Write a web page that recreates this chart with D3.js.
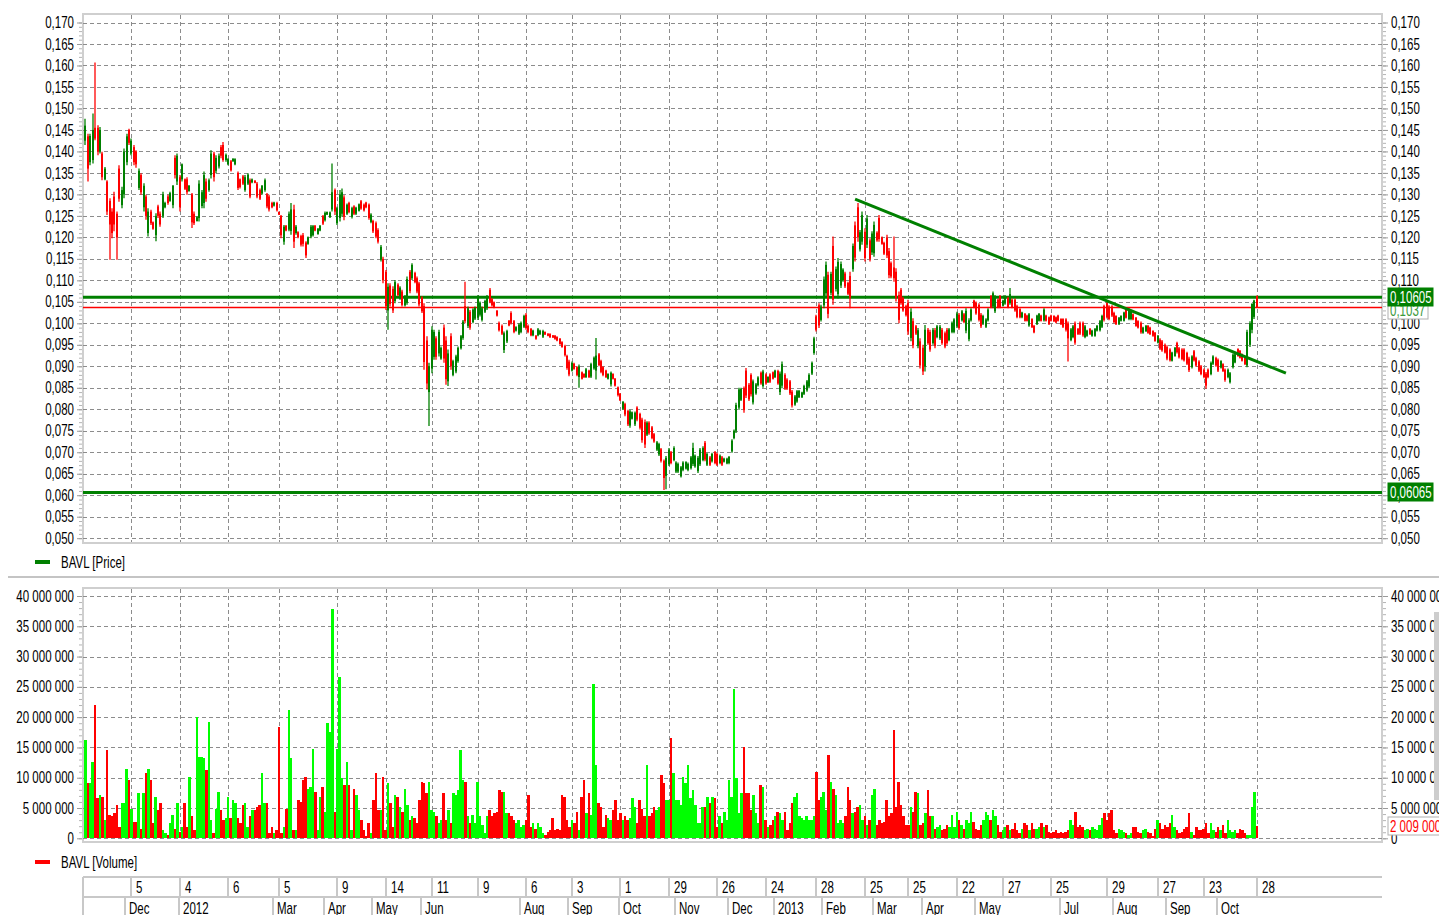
<!DOCTYPE html>
<html>
<head>
<meta charset="utf-8">
<script src="https://cdn.jsdelivr.net/npm/d3@7"></script>
<style>
  body { margin: 0; background: #fff; }
  text { font-family: "Liberation Sans", Arial, sans-serif; font-size: 16px; }
</style>
</head>
<body>
<div id="chart-container"></div>
<script>
// BAVL daily candles, prices in thousandths of a rouble (142.5 = 0,1425)
const open = [
  142.5,143.5,137.5,138.0,145.5,145.5,140.0,139.5,133.5,133.0,128.5,126.0,129.5,125.5,136.0,127.5,130.0,137.5,145.0,139.5,
  141.0,140.0,131.5,134.5,127.0,129.5,121.0,126.0,123.5,120.5,127.2,125.5,125.0,127.0,129.5,128.5,127.5,138.5,133.0,134.0,
  133.5,133.5,133.5,130.8,130.0,125.5,123.8,124.5,127.3,128.0,133.0,131.0,134.5,139.5,135.5,136.5,141.0,141.5,138.0,137.0,
  137.7,137.7,137.0,135.0,133.5,134.2,131.0,132.5,133.3,132.8,133.2,132.5,131.0,130.2,131.0,130.0,129.5,128.0,127.4,128.0,
  125.9,125.0,119.0,122.7,121.8,121.5,126.5,121.0,121.2,120.3,120.5,118.8,118.5,120.2,120.5,122.7,120.8,121.6,124.9,124.0,
  125.3,124.7,126.5,131.0,123.3,124.5,125.5,129.3,125.5,128.0,124.8,127.2,125.5,126.2,128.4,127.6,128.1,127.6,123.6,123.8,
  123.3,121.7,114.8,115.0,112.0,103.0,108.8,108.0,105.2,109.0,105.8,107.4,104.2,104.8,112.0,110.5,111.7,110.5,109.3,106.0,
  104.0,96.0,84.0,89.5,92.2,96.5,93.0,91.8,99.0,96.0,86.5,97.0,88.0,88.8,91.2,94.2,96.6,104.0,99.4,102.7,
  100.3,101.1,101.3,102.0,100.8,102.7,103.5,107.8,105.6,104.9,102.9,100.1,99.4,93.8,95.8,100.6,102.4,100.5,98.3,97.6,
  98.0,99.2,102.0,99.4,98.7,97.2,97.1,97.2,97.5,96.9,98.0,97.6,97.5,97.2,97.1,96.8,96.4,95.6,94.7,92.4,
  91.1,89.0,90.6,89.8,87.5,88.6,88.2,87.5,89.0,87.6,89.5,89.0,92.8,91.2,89.8,89.0,87.1,85.8,88.2,87.1,
  85.1,83.6,80.1,81.2,79.6,76.2,77.8,76.5,80.4,78.9,77.6,77.0,74.1,76.9,75.8,74.2,70.6,69.5,70.7,68.0,
  64.5,67.2,70.0,68.2,65.5,65.5,64.4,65.9,66.2,65.9,66.3,67.3,66.7,65.6,67.2,68.2,72.2,67.1,68.8,67.9,
  70.0,69.6,67.5,68.8,67.8,67.4,67.5,70.2,73.3,75.0,80.4,82.2,84.9,89.0,85.7,88.0,81.6,83.7,85.6,88.5,
  85.4,88.1,86.3,88.1,88.6,87.5,88.9,84.0,85.5,88.0,86.9,86.5,84.1,81.1,81.8,82.8,82.8,83.6,84.4,85.3,
  88.3,93.1,101.6,104.2,100.8,104.2,107.0,111.3,107.1,118.0,108.0,106.8,108.8,110.0,111.6,109.4,111.0,112.6,122.8,127.0,
  117.2,119.0,121.3,118.3,119.3,116.5,116.3,121.1,124.5,120.0,118.7,120.0,116.8,114.0,113.0,112.0,106.6,107.8,105.8,104.0,
  104.7,96.6,100.5,99.3,94.7,95.8,94.3,90.0,98.5,98.0,95.4,98.4,96.8,96.5,98.5,97.7,98.5,96.1,98.0,98.0,
  99.3,102.0,100.7,102.1,98.3,96.3,100.7,105.3,104.8,104.3,102.0,99.9,99.2,100.7,106.3,103.9,102.8,105.5,106.3,104.1,
  104.6,105.9,104.7,105.5,105.5,104.0,103.3,101.4,102.2,101.8,99.5,101.0,99.4,99.8,100.6,101.8,100.7,101.8,101.4,101.8,
  101.7,101.4,101.8,101.0,101.0,100.9,100.0,96.1,96.8,100.0,98.7,100.1,100.1,96.8,97.1,98.7,97.1,97.1,98.3,98.4,
  99.2,104.0,104.7,103.9,103.9,102.4,101.7,99.8,100.6,100.6,103.3,101.0,101.0,102.1,101.3,100.5,100.1,97.8,98.2,99.4,
  99.0,98.2,97.8,95.5,96.2,95.8,95.0,94.5,93.9,91.3,92.4,95.4,94.2,93.9,93.9,93.1,91.8,89.8,93.5,91.9,
  91.1,90.0,89.2,88.3,89.2,88.2,90.6,91.9,91.5,89.7,90.5,89.2,87.5,86.3,89.8,90.9,94.0,93.6,92.8,92.0,
  90.2,95.0,98.5,101.5,106.3
];
const high = [
  147.6,144.1,144.1,148.8,160.7,146.1,145.7,139.9,136.4,133.3,129.1,126.8,130.6,126.0,136.8,131.8,140.7,144.1,145.3,143.0,
  141.5,140.3,136.0,134.9,132.6,129.9,126.8,126.4,123.7,125.6,127.6,126.0,130.6,128.3,129.9,130.6,132.2,139.1,139.5,134.5,
  137.2,133.7,134.0,132.2,130.3,126.0,124.9,133.3,131.0,135.3,133.7,133.7,140.3,139.9,139.1,139.5,141.5,142.2,139.5,138.4,
  138.0,138.4,138.4,135.3,133.7,134.5,134.5,134.9,133.7,133.7,133.3,132.9,131.4,132.2,133.7,130.3,129.9,128.3,128.3,128.3,
  126.0,125.2,122.9,122.9,126.0,128.0,127.6,122.9,121.4,120.6,121.0,119.1,120.2,122.9,122.9,122.9,122.2,122.9,125.2,126.0,
  126.0,126.0,137.2,131.4,127.1,131.0,131.4,129.8,127.9,128.3,127.1,127.5,127.1,127.9,128.7,127.9,128.3,127.9,125.6,124.1,
  123.7,122.1,118.2,115.5,112.4,109.3,109.3,108.6,110.1,109.3,108.6,107.8,106.6,110.9,112.4,114.0,112.0,110.9,109.7,106.3,
  104.7,97.0,90.8,99.3,98.5,97.0,98.5,94.6,99.7,97.0,93.9,97.7,91.5,92.7,94.6,97.3,100.8,109.7,103.9,103.1,
  103.5,103.9,106.6,105.1,103.9,105.5,106.6,108.2,105.9,105.1,103.1,100.4,99.7,98.1,98.5,100.8,102.8,100.8,99.3,100.0,
  100.4,102.0,102.4,99.7,98.9,98.5,97.3,98.9,98.5,98.5,98.1,97.7,97.7,97.3,97.3,97.0,96.6,95.8,95.0,92.7,
  91.5,91.1,90.8,90.0,90.4,88.8,88.4,89.6,89.2,90.8,92.3,96.6,93.1,91.5,90.0,89.2,88.4,88.8,88.4,87.3,
  85.3,83.8,81.9,81.5,79.9,79.9,79.5,79.5,80.7,79.2,78.0,77.6,77.2,77.2,76.1,74.5,72.6,72.2,71.0,68.3,
  69.1,71.0,70.3,71.4,67.9,67.6,66.8,67.9,67.9,67.6,69.1,72.2,69.5,69.1,71.0,71.4,72.6,69.9,69.1,69.9,
  70.3,69.9,69.5,69.1,68.7,68.7,69.1,73.0,75.3,81.5,85.0,85.0,85.3,89.6,86.1,88.4,86.9,86.1,87.7,88.8,
  89.2,88.4,87.7,88.4,88.8,89.2,89.2,88.8,91.1,88.4,87.2,86.8,84.5,83.3,84.5,84.5,84.1,85.7,86.8,88.4,
  91.1,96.9,102.0,104.7,104.3,110.9,114.4,112.0,112.0,120.2,113.2,115.2,114.4,112.8,112.0,109.7,112.0,118.6,123.7,128.0,
  121.7,126.0,122.1,125.2,119.8,121.4,123.7,121.4,125.2,120.2,119.0,120.6,117.5,114.4,120.2,112.8,107.4,108.2,106.2,104.3,
  105.5,103.5,101.2,99.6,98.9,96.5,95.0,99.6,98.9,98.5,98.9,98.9,99.6,99.6,98.9,98.1,98.9,98.9,100.4,101.2,
  102.7,102.4,103.1,102.4,103.5,101.2,103.5,105.5,105.1,104.7,102.4,102.0,101.2,103.5,106.6,107.4,106.6,105.8,106.6,105.5,
  106.6,106.2,108.2,105.8,105.8,104.3,103.5,102.7,102.4,102.0,102.4,101.2,99.6,102.0,102.4,102.0,103.5,102.0,101.6,102.0,
  101.9,101.6,102.0,101.2,101.2,101.2,100.4,98.9,99.6,100.4,98.9,100.4,100.4,99.6,98.5,98.9,98.5,98.9,99.6,100.8,
  102.0,104.3,105.0,104.2,104.2,102.7,101.9,101.5,101.9,102.7,103.5,103.5,103.1,102.3,101.5,100.7,100.4,99.2,99.6,99.6,
  99.2,98.4,98.0,97.3,96.5,96.1,95.3,94.9,94.2,93.4,94.5,95.7,94.5,94.2,94.2,93.4,92.2,92.6,93.8,92.2,
  91.4,90.3,89.5,88.7,89.5,91.1,92.6,92.2,91.8,91.4,90.7,89.5,89.5,88.7,93.0,93.0,94.2,93.8,93.0,92.2,
  98.5,100.5,104.7,105.5,106.5
];
const low = [
  141.5,133.0,136.8,137.2,142.6,139.1,139.5,133.3,133.3,125.2,114.8,119.8,121.4,114.8,128.3,126.8,129.1,136.8,141.5,139.1,
  136.8,136.2,131.0,129.9,126.0,124.1,120.2,122.9,121.8,119.1,124.5,122.5,124.5,126.8,127.6,128.3,126.8,133.7,132.2,126.0,
  133.0,131.0,129.9,130.6,122.2,122.9,123.7,123.7,126.8,126.8,128.3,130.6,133.7,133.0,134.9,136.0,138.4,137.6,137.6,136.8,
  135.3,137.6,136.8,131.0,131.4,132.2,130.6,132.2,129.1,132.6,132.6,129.1,128.7,129.9,130.6,126.8,126.0,126.8,127.2,126.0,
  125.2,119.8,118.3,121.4,121.4,120.6,117.5,120.6,119.8,117.9,117.9,115.2,118.3,119.8,120.2,121.4,120.6,121.4,122.9,123.7,
  125.2,124.5,126.0,125.2,122.9,123.7,124.8,124.0,125.2,125.6,124.4,125.2,125.2,126.0,126.4,126.0,126.8,124.1,123.3,121.0,
  119.8,118.6,114.4,109.3,103.1,98.5,103.9,102.4,104.7,106.3,105.5,103.9,103.9,104.3,107.0,110.1,109.3,107.0,103.9,102.4,
  89.2,84.6,76.1,88.4,91.5,91.5,92.3,91.5,90.8,85.7,85.4,89.2,87.7,88.4,90.8,93.9,96.2,100.0,98.9,98.5,
  100.0,100.8,100.8,101.6,100.4,102.4,103.1,104.7,103.9,103.5,101.6,98.1,97.3,93.1,95.4,99.3,99.7,97.7,98.1,97.3,
  97.7,98.9,98.5,97.7,97.0,97.0,96.2,97.0,97.3,96.6,97.3,97.0,96.6,96.6,96.2,95.8,95.0,94.3,92.3,89.2,
  87.7,88.8,89.2,87.7,85.0,86.9,87.3,87.3,87.3,87.3,89.2,86.9,90.0,88.4,87.7,87.3,86.9,85.3,86.9,85.3,
  83.0,81.9,79.9,78.4,76.1,75.7,77.6,76.1,77.2,75.3,72.2,71.0,73.8,74.1,73.0,72.2,70.3,69.1,67.6,61.2,
  61.4,66.8,67.2,67.9,65.2,65.2,64.1,65.6,66.0,65.6,66.0,66.8,66.4,65.2,66.8,67.9,67.9,66.8,66.8,67.6,
  67.2,66.8,67.2,66.8,67.6,67.2,67.2,69.9,73.0,74.5,79.9,81.9,79.2,82.6,81.9,83.0,81.1,83.4,85.3,85.7,
  85.0,85.7,86.1,86.1,86.9,87.3,85.7,83.3,84.9,84.5,84.5,83.3,80.4,80.8,81.5,82.6,82.6,83.3,84.1,84.9,
  88.0,92.7,98.1,98.9,100.4,103.5,106.2,101.2,106.6,104.3,107.4,105.8,108.2,109.7,108.2,106.6,103.5,112.0,114.4,119.0,
  116.7,118.3,114.4,117.5,114.4,115.9,115.5,119.0,119.0,118.3,115.9,115.2,110.5,110.5,109.7,105.1,100.0,104.3,102.7,101.6,
  97.3,95.8,94.2,97.3,94.2,89.5,88.0,88.8,95.0,93.4,95.0,94.2,96.5,96.1,95.0,94.2,95.0,95.8,97.7,97.7,
  98.9,98.5,100.4,100.0,97.7,95.8,100.4,103.5,102.0,100.4,98.9,99.6,98.9,100.4,103.5,103.5,102.4,103.5,103.5,103.9,
  104.3,103.5,104.3,103.5,102.7,101.2,101.2,101.2,100.4,100.4,99.2,98.9,97.7,99.6,100.4,100.4,100.4,100.4,99.6,100.4,
  100.3,100.0,100.4,99.6,98.9,98.1,91.1,95.8,96.5,95.0,97.3,97.3,96.9,96.5,96.9,97.3,96.9,96.9,98.1,98.1,
  98.9,100.4,101.1,100.7,101.5,100.0,99.6,99.6,100.4,100.4,101.1,100.7,100.7,100.7,99.2,98.8,97.6,97.6,98.0,97.6,
  97.3,96.9,95.7,95.3,93.8,93.4,93.0,91.4,91.1,91.1,92.2,93.0,91.8,91.4,91.1,90.3,88.7,89.5,91.1,89.9,
  88.7,87.9,87.2,84.8,87.2,87.9,90.3,89.9,88.7,89.5,88.7,86.4,87.2,86.0,89.5,90.7,92.2,91.8,91.1,90.3,
  89.8,94.5,97.7,101.0,103.7
];
const close = [
  146.0,136.0,143.6,145.0,143.0,140.0,145.0,134.0,136.0,126.0,123.0,121.0,123.0,120.0,129.0,131.0,140.0,143.5,142.0,142.5,
  137.5,137.0,135.5,130.5,132.0,125.0,126.0,123.3,122.0,125.0,125.0,123.0,130.0,128.0,128.0,130.3,132.0,134.5,139.0,127.0,
  137.0,131.3,130.5,132.0,123.5,123.3,124.7,132.5,130.5,134.5,129.0,133.3,139.5,134.0,138.5,139.0,139.0,138.0,139.2,138.2,
  135.6,138.3,138.2,131.5,131.7,132.5,134.0,134.6,129.5,133.5,132.7,129.5,129.0,132.0,133.3,127.2,126.5,127.0,128.1,126.3,
  125.3,120.5,122.5,121.6,125.5,126.5,119.0,122.5,120.0,118.3,118.5,115.8,120.0,122.5,122.6,121.6,122.0,122.7,123.2,125.7,
  125.9,125.8,130.5,126.0,126.8,130.0,130.5,124.8,127.6,125.9,126.8,125.5,126.9,127.7,126.7,126.3,127.0,124.5,125.3,121.4,
  120.2,119.0,117.8,110.0,104.0,108.5,104.5,103.0,109.6,106.6,108.3,104.3,106.3,110.3,107.5,113.6,109.6,107.4,104.4,102.8,
  91.0,86.0,90.0,98.5,98.0,92.2,98.0,94.3,91.8,87.0,93.0,90.0,91.2,92.3,94.3,97.0,100.4,100.5,103.5,99.0,
  103.2,103.6,106.0,104.8,103.5,105.2,106.2,105.0,104.2,103.7,101.8,98.4,97.6,97.7,98.2,99.5,100.1,98.0,99.1,99.7,
  100.1,101.7,98.9,98.0,97.2,98.3,96.4,98.6,98.3,98.2,97.4,97.1,96.8,96.7,96.4,96.0,95.2,94.5,92.6,89.6,
  88.1,90.8,89.4,88.0,90.0,87.1,87.5,89.3,87.5,90.5,92.0,92.5,90.3,88.7,88.0,87.5,88.2,88.5,87.1,85.5,
  83.3,82.1,81.7,78.8,76.5,79.5,79.3,79.2,77.6,75.7,72.8,71.8,76.9,74.4,73.3,72.5,72.3,71.9,68.0,64.0,
  68.7,70.6,67.5,71.0,67.6,67.3,66.5,67.6,67.7,67.3,68.8,71.0,69.2,68.7,70.6,71.0,68.3,69.6,67.1,69.6,
  67.5,67.1,69.2,67.1,68.5,68.5,68.9,72.7,75.0,81.0,84.6,84.7,79.8,83.2,82.3,83.5,86.5,85.8,87.4,86.0,
  88.8,86.0,87.5,86.4,87.1,89.0,86.0,88.3,90.5,84.9,84.8,83.7,80.9,83.0,84.2,84.3,83.9,85.4,86.5,88.0,
  90.8,96.5,98.5,99.5,103.9,110.2,113.6,102.2,111.5,105.5,112.6,114.3,113.8,112.5,108.6,106.9,106.0,118.0,115.3,120.0,
  121.2,125.2,115.2,124.4,115.0,120.9,122.9,119.3,119.6,118.5,116.2,115.8,111.2,110.9,110.5,105.9,100.8,104.7,103.0,101.9,
  98.1,102.7,94.9,97.6,98.4,90.2,88.8,98.5,95.4,93.9,98.5,94.7,99.3,99.2,95.4,94.6,95.4,98.6,100.1,100.9,
  102.3,98.9,102.8,100.3,102.9,100.7,103.2,103.7,102.3,100.8,99.3,101.7,100.9,103.2,103.8,107.0,106.2,103.8,103.8,105.3,
  106.3,103.8,106.8,103.8,103.0,101.5,101.4,102.5,100.6,100.6,102.1,99.1,97.9,101.8,102.2,100.6,103.2,100.6,99.8,100.6,
  100.5,100.2,100.6,99.8,99.2,98.5,96.5,98.6,99.3,95.5,97.5,97.6,97.2,99.3,98.3,97.5,98.3,98.7,99.4,100.5,
  101.7,100.8,101.4,101.0,101.8,100.3,99.8,101.3,101.7,102.5,101.3,103.2,102.9,100.9,99.4,99.0,97.9,99.0,99.4,97.8,
  97.5,97.1,95.9,97.1,94.1,93.7,93.2,91.8,91.4,93.2,94.3,93.3,92.1,91.7,91.4,90.6,89.1,92.3,91.4,90.2,
  89.0,88.2,87.5,85.5,87.5,90.8,92.3,90.2,89.0,91.2,88.9,86.8,89.2,88.4,92.7,92.8,92.4,92.0,91.3,90.5,
  98.0,100.0,104.5,105.3,103.7
];
// volume in millions of shares
const volume = [
  16.2,9.1,9.1,12.6,22.0,6.6,7.1,6.9,3.0,14.6,3.8,3.6,4.1,5.5,1.9,5.8,5.8,11.5,9.6,4.9,
  2.7,2.7,7.4,1.6,7.4,10.7,11.5,9.6,2.5,6.9,4.7,5.8,1.4,0.8,0.5,2.5,3.8,1.6,5.8,1.1,
  1.9,5.8,1.9,10.2,3.6,1.4,20.1,13.5,13.5,13.2,11.3,19.2,3.0,0.8,4.9,7.7,4.7,3.0,3.3,6.9,
  3.3,6.3,5.8,3.3,2.5,5.5,5.8,1.9,3.6,4.7,4.7,5.2,5.5,10.7,5.8,5.8,0.8,1.9,0.8,1.4,
  18.4,0.8,1.9,4.9,21.2,13.2,1.4,1.4,6.3,6.0,9.6,10.2,8.2,8.5,14.8,7.7,1.4,6.9,8.5,4.4,
  19.0,17.6,37.9,4.4,14.8,26.6,9.9,8.8,12.6,8.8,1.4,8.2,7.1,4.7,3.0,1.4,0.3,2.5,0.8,6.3,
  10.7,4.7,4.7,10.2,1.4,9.1,5.8,1.9,7.1,6.9,5.2,4.4,8.2,5.5,3.0,3.6,3.3,2.5,6.3,9.3,
  9.1,7.4,9.3,4.7,4.4,3.6,2.5,3.0,7.4,3.0,4.7,2.5,7.4,7.1,8.0,14.6,9.6,9.3,3.6,2.5,
  3.8,2.5,9.3,3.6,2.2,0.8,3.6,4.7,3.6,4.1,4.4,8.0,7.7,7.7,4.1,4.1,3.6,3.0,2.5,3.0,
  1.9,2.2,3.0,7.1,1.9,2.5,1.6,2.5,1.9,0.8,0.5,1.1,1.4,3.3,1.4,1.6,1.4,7.1,6.9,3.0,
  1.9,3.0,2.5,4.4,1.4,6.9,9.6,4.1,7.4,3.8,25.5,12.1,5.8,5.2,1.9,3.8,3.3,3.0,4.7,6.3,
  3.0,4.1,3.0,3.6,3.0,3.3,6.6,5.2,2.5,6.3,4.9,3.6,12.1,3.6,4.1,5.2,4.7,5.2,10.4,9.1,
  6.3,6.3,16.5,10.7,6.3,6.3,5.5,10.2,9.1,12.1,6.6,8.0,5.5,2.5,2.5,5.2,5.2,6.9,5.8,6.9,
  6.6,1.9,3.6,2.5,4.4,3.0,9.6,6.9,24.7,9.9,4.1,7.4,15.1,7.4,7.4,4.7,7.1,4.1,2.5,8.8,
  8.5,3.0,1.9,2.2,3.0,3.6,4.4,4.1,3.0,4.4,1.4,2.5,5.8,6.9,7.4,3.6,3.3,3.0,3.6,3.0,
  3.0,3.6,11.0,6.3,6.9,7.7,4.7,13.7,9.3,8.2,7.1,2.5,3.0,2.5,3.6,8.5,6.3,4.1,4.4,5.2,
  5.5,3.0,3.6,2.2,3.0,7.1,8.2,2.2,3.0,2.5,2.7,6.3,3.6,4.1,17.9,5.2,9.3,5.5,3.6,2.2,
  2.2,5.2,4.4,7.7,7.4,2.2,2.5,4.1,8.0,3.6,3.6,1.6,1.9,2.2,1.4,1.6,2.2,1.9,3.8,1.9,
  4.4,3.0,2.2,1.6,3.0,2.5,4.4,2.7,1.6,1.4,2.2,3.0,4.4,3.8,3.0,4.7,3.6,2.2,1.1,1.4,
  1.9,2.2,1.4,1.6,2.5,1.4,0.8,1.6,2.5,2.2,1.4,2.5,1.6,1.6,1.9,2.5,1.9,2.2,1.1,0.8,
  1.1,1.4,0.8,1.1,0.8,1.1,1.4,3.0,2.2,4.4,1.9,2.2,1.9,1.4,1.6,1.4,1.9,1.6,1.4,2.2,
  3.3,4.1,3.0,4.1,4.7,1.4,0.8,1.5,1.4,1.1,0.8,0.5,0.8,1.9,1.9,1.1,0.8,1.4,1.6,1.1,
  0.8,0.3,1.6,3.0,2.5,1.6,2.2,1.9,2.5,3.8,1.9,1.4,0.8,1.1,1.6,1.9,4.1,1.1,0.5,1.9,
  1.4,1.4,1.6,2.5,0.8,2.5,1.4,1.1,1.9,1.4,2.2,0.8,3.0,1.4,1.1,1.4,0.8,1.6,1.4,0.8,
  0.5,0.5,5.2,7.7,2.009
];

// date axis: bar index of each label
const dayIdx = [19, 39, 59, 80, 104, 124, 143, 162, 182, 201, 221, 241, 261, 281, 302, 322, 340, 360, 379, 399, 422, 443, 462, 484];
const dayLabels = ["5", "4", "6", "5", "9", "14", "11", "9", "6", "3", "1", "29", "26", "24", "28", "25", "25", "22", "27", "25", "29", "27", "23", "28"];
const monthIdx = [17, 39, 78, 99, 119, 139, 180, 200, 221, 244, 266, 285, 305, 326, 346, 368, 403, 425, 447, 468];
const monthLabels = ["Dec", "2012", "Mar", "Apr", "May", "Jun", "Aug", "Sep", "Oct", "Nov", "Dec", "2013", "Feb", "Mar", "Apr", "May", "Jul", "Aug", "Sep", "Oct"];

// drawn levels and trend line
const levelValues = [106.05, 60.65];
const trendIdx = [318, 496];
const trendValues = [128.9, 88.4];

const width = 1439, height = 915;
const plotLeft = 83, plotRight = 1382;
const priceTop = 14, priceBottom = 543;
const volTop = 588, volBottom = 842;

const green = "#008000", red = "#ff0000", lime = "#00ff00";
const gridColor = "#8c8c8c", frameColor = "#cfcfcf";

var svg = d3.select("#chart-container")
  .append("svg")
  .attr("width", width)
  .attr("height", height);

// scales
const x = d3.scaleLinear().domain([-1, 535.7]).range([plotLeft, plotRight]);
const yPrice = d3.scaleLinear().domain([50, 170]).range([538.2, 22.5]);
const yVol = d3.scaleLinear().domain([0, 40]).range([838.3, 596]);

const fmtPrice = v => (v / 1000).toFixed(3).replace(".", ",");
const fmtVol = v => d3.format(",")(Math.round(v * 1e6)).replace(/,/g, " ");

const priceTicks = d3.range(50, 170.01, 5);
const priceMinor = d3.range(50, 170.01, 1);
const volTicks = d3.range(0, 40.01, 5);
const volMinor = d3.range(0, 40.01, 1);

// panel frames
function frame(y0, y1) {
  svg.append("rect")
    .attr("x", plotLeft).attr("y", y0)
    .attr("width", plotRight - plotLeft).attr("height", y1 - y0)
    .attr("fill", "none")
    .attr("stroke", frameColor)
    .attr("stroke-width", 2);
}
frame(priceTop, priceBottom);
frame(volTop, volBottom);

// grids
function grid(yScale, ticks, y0, y1) {
  svg.append("g").selectAll("line")
    .data(ticks)
    .join("line")
    .attr("x1", plotLeft).attr("x2", plotRight)
    .attr("y1", d => Math.round(yScale(d)) + 0.5)
    .attr("y2", d => Math.round(yScale(d)) + 0.5)
    .attr("stroke", gridColor)
    .attr("stroke-dasharray", "4,3");
  svg.append("g").selectAll("line")
    .data(dayIdx)
    .join("line")
    .attr("x1", d => Math.round(x(d)) + 0.5)
    .attr("x2", d => Math.round(x(d)) + 0.5)
    .attr("y1", y0).attr("y2", y1)
    .attr("stroke", gridColor)
    .attr("stroke-dasharray", "4,3");
}
grid(yPrice, priceTicks, priceTop + 1, priceBottom - 1);
grid(yVol, volTicks, volTop + 1, volBottom - 1);

// axes, both sides
function axes(yScale, ticks, minor, fmt) {
  [["left", plotLeft - 1], ["right", plotRight + 1]].forEach(([side, px]) => {
    const mk = side === "left" ? d3.axisLeft : d3.axisRight;
    const gMinor = svg.append("g")
      .attr("transform", `translate(${px},0)`)
      .call(mk(yScale).tickValues(minor).tickSize(3).tickFormat(""));
    gMinor.select(".domain").remove();
    gMinor.selectAll("line").attr("stroke", "#b4b4b4");

    const g = svg.append("g")
      .attr("transform", `translate(${px},0)`)
      .call(mk(yScale).tickValues(ticks).tickSize(5).tickPadding(3).tickFormat(fmt));
    g.select(".domain").remove();
    g.selectAll("line").attr("stroke", "#9a9a9a");
    g.selectAll("text")
      .attr("fill", "#000")
      .style("font-size", "16px")
      .style("font-family", null);
  });
}
axes(yPrice, priceTicks, priceMinor, fmtPrice);
axes(yVol, volTicks, volMinor, fmtVol);

const bars = d3.range(close.length);
const isUp = i => close[i] >= open[i];

// volume bars
svg.append("g").selectAll("rect")
  .data(bars)
  .join("rect")
  .attr("x", i => x(i) - 1.2)
  .attr("width", 2.42)
  .attr("y", i => yVol(volume[i]))
  .attr("height", i => yVol(0) - yVol(volume[i]))
  .attr("fill", i => isUp(i) ? lime : red)
  .attr("shape-rendering", "crispEdges");

// horizontal levels
levelValues.forEach(v => {
  svg.append("line")
    .attr("x1", plotLeft).attr("x2", plotRight)
    .attr("y1", yPrice(v)).attr("y2", yPrice(v))
    .attr("stroke", green)
    .attr("stroke-width", 3);
});
const lastPrice = close[close.length - 1];
svg.append("line")
  .attr("x1", plotLeft).attr("x2", plotRight)
  .attr("y1", yPrice(lastPrice)).attr("y2", yPrice(lastPrice))
  .attr("stroke", red)
  .attr("stroke-width", 1.5);

// candles: wick + body
const candles = svg.append("g");
candles.selectAll("line")
  .data(bars)
  .join("line")
  .attr("x1", i => Math.round(x(i)))
  .attr("x2", i => Math.round(x(i)))
  .attr("y1", i => yPrice(high[i]))
  .attr("y2", i => yPrice(low[i]))
  .attr("stroke", i => isUp(i) ? green : red)
  .attr("stroke-width", 1.3);
candles.selectAll("rect")
  .data(bars)
  .join("rect")
  .attr("x", i => Math.round(x(i)) - 1)
  .attr("width", 2)
  .attr("y", i => yPrice(Math.max(open[i], close[i])))
  .attr("height", i => Math.max(1, Math.abs(yPrice(open[i]) - yPrice(close[i]))))
  .attr("fill", i => isUp(i) ? green : red);

// trend line
svg.append("line")
  .attr("x1", x(trendIdx[0])).attr("y1", yPrice(trendValues[0]))
  .attr("x2", x(trendIdx[1])).attr("y2", yPrice(trendValues[1]))
  .attr("stroke", green)
  .attr("stroke-width", 3);

// value tags on the right axis
function tag(yPos, txt, fill, color, stroke, w) {
  svg.append("rect")
    .attr("x", 1388).attr("y", Math.round(yPos) - 9)
    .attr("width", w).attr("height", 18)
    .attr("fill", fill)
    .attr("stroke", stroke);
  svg.append("text")
    .attr("x", 1390).attr("y", Math.round(yPos) + 6)
    .attr("fill", color)
    .text(txt);
}
tag(yPrice(lastPrice) + 3, (lastPrice / 1000).toFixed(4).replace(".", ","), "#fff", "#3c9a3c", "#b0b0b0", 40);
levelValues.forEach(v => tag(yPrice(v), (v / 1000).toFixed(5).replace(".", ","), green, "#fff", green, 45));
tag(yVol(volume[volume.length - 1]), fmtVol(volume[volume.length - 1]), "#fff", red, "#b0b0b0", 60);

// scrollbar stub at the right edge
svg.append("rect")
  .attr("x", 1434).attr("y", 612)
  .attr("width", 5).attr("height", 188)
  .attr("fill", "#cdcdcd");

// separator between panels
svg.append("line")
  .attr("x1", 8).attr("x2", width)
  .attr("y1", 577).attr("y2", 577)
  .attr("stroke", "#c4c4c4")
  .attr("stroke-width", 2);

// legends
function legend(y, color, label) {
  svg.append("line")
    .attr("x1", 35).attr("x2", 50)
    .attr("y1", y).attr("y2", y)
    .attr("stroke", color)
    .attr("stroke-width", 4);
  svg.append("text")
    .attr("x", 61).attr("y", y + 6)
    .attr("fill", "#000")
    .text(label);
}
legend(562, green, "BAVL [Price]");
legend(862, red, "BAVL [Volume]");

// date table below the volume panel
const tableColor = "#c8c8c8";
const dates = svg.append("g");
[877, 897].forEach(yy => {
  dates.append("line")
    .attr("x1", plotLeft).attr("x2", plotRight)
    .attr("y1", yy).attr("y2", yy)
    .attr("stroke", tableColor)
    .attr("stroke-width", 2);
});
dates.append("line")
  .attr("x1", plotLeft).attr("x2", plotLeft)
  .attr("y1", 877).attr("y2", height)
  .attr("stroke", tableColor)
  .attr("stroke-width", 2);
dates.selectAll(".day-sep")
  .data(dayIdx)
  .join("line")
  .attr("class", "day-sep")
  .attr("x1", d => Math.round(x(d)))
  .attr("x2", d => Math.round(x(d)))
  .attr("y1", 877).attr("y2", 897)
  .attr("stroke", tableColor)
  .attr("stroke-width", 2);
dates.selectAll(".day-label")
  .data(dayIdx)
  .join("text")
  .attr("class", "day-label")
  .attr("x", d => Math.round(x(d)) + 5)
  .attr("y", 893)
  .attr("fill", "#000")
  .text((d, i) => dayLabels[i]);
dates.selectAll(".month-sep")
  .data(monthIdx)
  .join("line")
  .attr("class", "month-sep")
  .attr("x1", d => Math.round(x(d - 0.5)))
  .attr("x2", d => Math.round(x(d - 0.5)))
  .attr("y1", 897).attr("y2", height)
  .attr("stroke", tableColor)
  .attr("stroke-width", 2);
dates.selectAll(".month-label")
  .data(monthIdx)
  .join("text")
  .attr("class", "month-label")
  .attr("x", d => Math.round(x(d - 0.5)) + 4)
  .attr("y", 914)
  .attr("fill", "#000")
  .text((d, i) => monthLabels[i]);

// the original uses a tall narrow face: squeeze every label horizontally around its anchor
svg.selectAll("text").each(function() {
  const t = d3.select(this);
  const tx = +t.attr("x") || 0;
  const ty = +t.attr("y") || 0;
  t.attr("x", 0).attr("y", 0)
    .attr("transform", `translate(${tx},${ty}) scale(0.72,1)`);
});
</script>
</body>
</html>
